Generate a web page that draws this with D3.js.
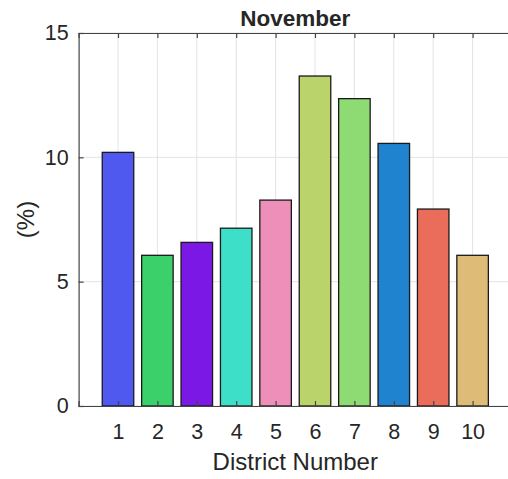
<!DOCTYPE html>
<html><head><meta charset="utf-8">
<script src="https://cdn.jsdelivr.net/npm/d3@7"></script>
<style>body{margin:0;background:#fff}svg{display:block}text{font-family:"Liberation Sans",Arial,sans-serif;fill:#262626}</style>
</head><body>
<script>
const districts = [1,2,3,4,5,6,7,8,9,10];
const values = [10.2, 6.06, 6.58, 7.15, 8.28, 13.27, 12.36, 10.56, 7.92, 6.06];
const colors = ["#4f58ef","#3bd06a","#7b18e6","#3edfc9","#ed8fb8","#bbd36b","#8edb73","#1f83cf","#ea6c5a","#dfbb78"];
const yTicks = [0,5,10,15];
const title = "November";
const xLabel = "District Number";
const yLabel = "(%)";

const W=508,H=479, L=78.6, R=512, T=33, B=406;
const svg=d3.select("body").append("svg").attr("width",W).attr("height",H);
const x=d3.scaleLinear().domain([0,11]).range([L,R]);
const y=d3.scaleLinear().domain([0,15]).range([B,T]);
const bw = x(0.8)-x(0);

// grid
const g=svg.append("g");
g.selectAll(".vg").data(districts).join("line").attr("x1",d=>x(d)).attr("x2",d=>x(d)).attr("y1",T).attr("y2",B).attr("stroke","#e3e3e3").attr("stroke-width",1);
g.selectAll(".hg").data(yTicks).join("line").attr("x1",L).attr("x2",R).attr("y1",d=>y(d)).attr("y2",d=>y(d)).attr("stroke","#e3e3e3").attr("stroke-width",1);

// bars
svg.selectAll(".bar").data(values).join("rect")
  .attr("x",(d,i)=>x(districts[i])-bw/2).attr("width",bw)
  .attr("y",d=>y(d)).attr("height",d=>y(0)-y(d))
  .attr("fill",(d,i)=>colors[i]).attr("stroke","#1a1a1a").attr("stroke-width",1.3);

// axes
const ax="#444";
const xb=svg.append("g").attr("transform",`translate(0,${B})`).call(d3.axisBottom(x).tickValues(districts).tickSize(-5).tickPadding(12).tickFormat(d3.format("d")));
const xt=svg.append("g").attr("transform",`translate(0,${T})`).call(d3.axisTop(x).tickValues(districts).tickSize(-5).tickFormat(""));
const yl=svg.append("g").attr("transform",`translate(${L},0)`).call(d3.axisLeft(y).tickValues(yTicks).tickSize(-5).tickPadding(10));
[xb,xt,yl].forEach(a=>{a.select(".domain").attr("stroke",ax).attr("stroke-width",1.2);a.selectAll(".tick line").attr("stroke",ax).attr("stroke-width",1.2);a.selectAll("text").style("font-size","21.5px").style("font-family",'"Liberation Sans",Arial,sans-serif').attr("fill","#262626");});
xb.selectAll(".tick text").attr("dy","0.71em").attr("y",18);

svg.append("text").attr("x",(L+R)/2).attr("y",26).attr("text-anchor","middle").style("font-size","22.5px").style("font-weight","bold").attr("fill","#000").text(title);
svg.append("text").attr("x",(L+R)/2).attr("y",470).attr("text-anchor","middle").style("font-size","24px").text(xLabel);
svg.append("text").attr("transform",`translate(34,${(T+B)/2}) rotate(-90)`).attr("text-anchor","middle").style("font-size","24px").text(yLabel);
</script>
</body></html>
